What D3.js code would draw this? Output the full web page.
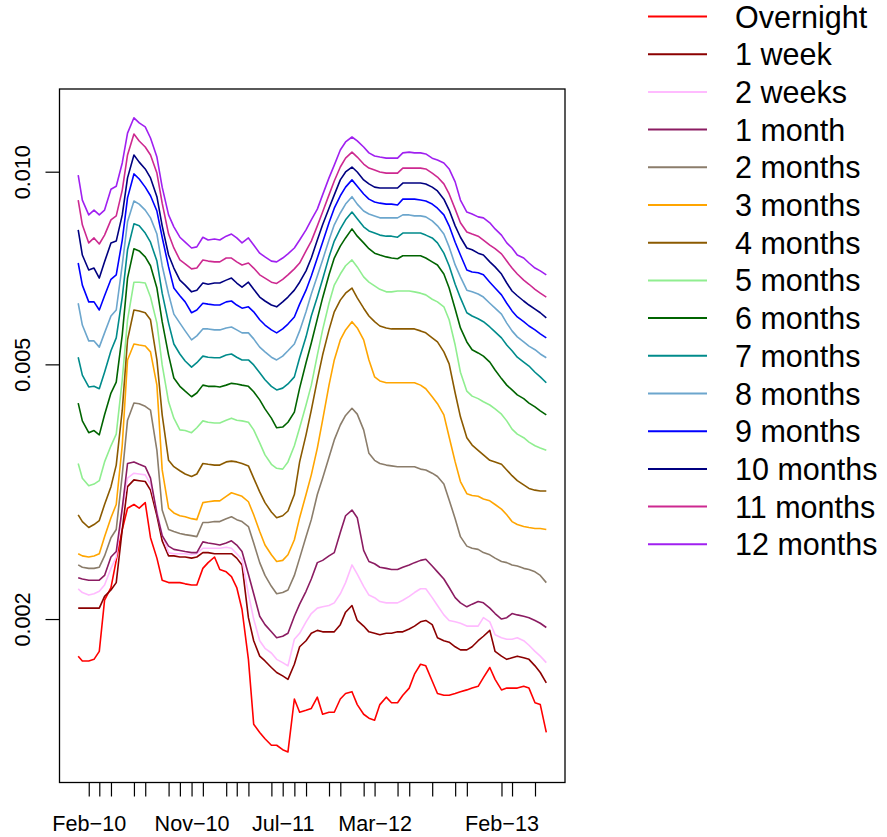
<!DOCTYPE html>
<html><head><meta charset="utf-8">
<script src="https://cdn.jsdelivr.net/npm/d3@7"></script>
<style>body{margin:0;background:#fff}svg{display:block;background:#fff}text{font-family:"Liberation Sans",Arial,Helvetica,sans-serif;fill:#000}</style>
</head><body><svg id="chart" width="887" height="837"></svg>
<script>
// observation dates (semi-monthly readings of the curves)
const dates = ["2010-01-04","2010-01-15","2010-02-01","2010-02-15","2010-03-01","2010-03-15","2010-04-01","2010-04-15","2010-05-01","2010-05-15","2010-06-01","2010-06-15","2010-07-01","2010-07-15","2010-08-01","2010-08-15","2010-09-01","2010-09-15","2010-10-01","2010-10-15","2010-11-01","2010-11-15","2010-12-01","2010-12-15",
"2011-01-01","2011-01-15","2011-02-01","2011-02-15","2011-03-01","2011-03-15","2011-04-01","2011-04-15","2011-05-01","2011-05-15","2011-06-01","2011-06-15","2011-07-01","2011-07-15","2011-08-01","2011-08-15","2011-09-01","2011-09-15","2011-10-01","2011-10-15","2011-11-01","2011-11-15","2011-12-01","2011-12-15",
"2012-01-01","2012-01-15","2012-02-01","2012-02-15","2012-03-01","2012-03-15","2012-04-01","2012-04-15","2012-05-01","2012-05-15","2012-06-01","2012-06-15","2012-07-01","2012-07-15","2012-08-01","2012-08-15","2012-09-01","2012-09-15","2012-10-01","2012-10-15","2012-11-01","2012-11-15","2012-12-01","2012-12-15",
"2013-01-01","2013-01-15","2013-02-01","2013-02-15","2013-03-01","2013-03-15","2013-04-01","2013-04-15","2013-05-01","2013-05-15","2013-05-31"];

const seriesNames = ["Overnight","1 week","2 weeks","1 month","2 months","3 months","4 months","5 months","6 months","7 months","8 months","9 months","10 months","11 months","12 months"];
const seriesColors = ["#FF0000","#8B0000","#FFBBFF","#8B1C62","#8B7D6B","#FFA500","#8B5A00","#90EE90","#006400","#008B8B","#6CA6CD","#0000FF","#000080","#CD2990","#A020F0"];

// rates in basis points
const overnight = [17.5,17.2,17.2,17.3,17.8,21.4,22.4,24.7,27.6,29.8,30.2,29.8,30.4,26.8,24.9,23.0,22.8,22.8,22.8,22.7,22.6,22.6,24.0,24.5,25.0,23.9,23.7,23.3,22.4,20.7,17.3,13.7,13.3,13.0,12.7,12.7,12.5,12.4,15.0,14.3,14.4,14.5,15.1,14.2,14.3,14.3,15.0,15.3,15.4,14.7,14.2,14.0,13.9,14.7,15.1,14.8,14.8,15.2,15.6,16.4,17.0,16.9,16.0,15.3,15.2,15.2,15.3,15.4,15.5,15.6,15.7,16.2,16.8,16.1,15.5,15.6,15.6,15.6,15.7,15.6,14.8,14.7,13.3];
const week1 = [20.8,20.8,20.8,20.8,20.8,21.7,22.2,22.8,27.6,32.2,33.0,32.9,32.8,31.8,29.0,26.5,25.1,25.1,25.0,25.0,24.9,25.0,25.4,25.4,25.3,25.3,25.3,25.3,24.9,24.3,20.1,18.5,17.5,17.2,16.8,16.5,16.3,16.1,17.0,18.1,18.5,19.0,19.2,19.1,19.1,19.1,19.6,20.5,21.0,19.9,19.5,19.1,19.0,18.9,19.0,19.0,19.1,19.1,19.3,19.5,19.8,19.9,19.6,18.7,18.5,18.4,18.1,17.9,17.9,18.1,18.5,18.8,19.2,17.8,17.5,17.3,17.4,17.5,17.4,17.3,16.9,16.5,15.9];
const weeks2 = [22.3,22.0,21.8,21.9,22.1,22.6,24.0,25.0,29.6,33.2,33.8,33.7,33.6,32.5,29.5,27.1,25.4,25.3,25.3,25.3,25.2,25.3,25.8,25.8,25.8,25.8,25.9,25.8,25.3,24.8,21.9,20.0,18.5,18.0,17.7,17.3,17.1,16.9,18.6,19.0,19.8,20.4,20.8,20.9,21.0,21.2,21.9,22.8,24.3,23.5,22.5,21.8,21.6,21.3,21.2,21.2,21.2,21.4,21.7,22.0,22.3,22.3,21.6,21.0,20.3,19.9,19.8,19.7,19.5,19.5,19.5,20.1,19.8,18.9,18.7,18.6,18.6,18.7,18.5,18.2,17.8,17.5,17.1];
const month1 = [23.2,23.1,23.0,23.0,23.0,23.4,25.0,25.5,29.8,35.0,35.2,34.9,34.6,33.2,29.2,27.0,26.0,25.7,25.6,25.5,25.4,25.4,26.4,26.3,26.2,26.1,26.3,26.5,26.1,25.5,23.5,21.9,20.2,19.6,19.1,18.7,18.8,19.0,20.2,21.1,22.1,23.1,24.5,24.7,25.1,25.4,27.3,29.0,29.6,28.8,25.6,24.6,24.4,24.1,24.0,23.9,23.9,24.1,24.3,24.5,24.7,24.8,24.2,23.7,23.1,22.4,21.6,21.2,20.9,21.1,21.3,21.2,20.8,20.4,20.0,20.1,20.4,20.3,20.2,20.1,19.9,19.7,19.4];
const months2 = [24.3,24.1,24.0,24.0,24.1,25.1,26.8,27.6,33.6,40.9,43.5,43.4,43.0,42.4,36.7,29.6,27.6,27.4,27.2,27.1,27.0,26.9,28.3,28.3,28.4,28.4,28.7,28.9,28.6,28.4,27.9,26.3,24.5,23.4,22.5,21.9,22.0,22.2,23.4,24.9,26.9,28.6,31.3,33.2,35.8,38.1,40.2,41.6,42.7,41.8,39.5,36.3,35.4,35.0,34.8,34.7,34.6,34.6,34.6,34.6,34.3,34.2,33.8,33.4,32.5,30.7,28.7,26.9,26.0,25.8,25.7,25.4,25.2,24.9,24.6,24.5,24.3,24.2,24.0,23.9,23.7,23.4,22.8];
const months3 = [25.3,25.1,25.0,25.1,25.3,26.9,28.8,30.2,37.4,50.8,53.8,53.6,53.4,52.3,46.4,34.2,29.8,29.3,29.0,28.9,28.7,28.6,30.4,30.5,30.6,30.6,31.1,31.5,31.3,31.1,30.5,29.1,27.4,26.1,25.2,24.6,24.7,25.2,26.6,28.8,31.3,33.6,37.0,40.9,46.4,50.8,54.6,56.6,58.3,57.0,54.6,50.8,47.8,47.1,46.8,46.8,46.8,46.8,46.8,46.8,46.4,45.8,44.5,43.4,41.7,38.5,35.2,32.8,31.4,31.2,31.1,30.8,30.6,30.2,29.7,29.1,28.4,28.1,27.9,27.8,27.7,27.7,27.6];
const months4 = [29.1,28.4,27.8,28.1,28.5,30.2,32.2,34.8,42.4,54.6,60.8,60.6,60.2,58.7,50.8,41.7,35.4,34.6,34.1,33.7,33.4,33.7,35.0,34.9,34.8,34.8,35.2,35.3,35.2,35.0,34.7,33.2,31.6,30.4,29.4,28.8,29.0,29.5,31.3,35.2,38.8,42.4,47.3,51.7,56.6,60.4,63.0,64.6,65.8,63.5,61.2,59.5,58.3,57.4,57.0,56.8,56.8,56.8,56.8,56.8,56.4,56.0,55.0,54.2,52.3,50.1,45.1,41.4,38.4,37.4,36.7,36.1,35.4,35.2,34.9,34.2,33.5,32.9,32.4,32.0,31.8,31.7,31.7];
const months5 = [35.0,33.2,32.3,32.5,32.9,35.2,37.3,38.9,47.3,58.7,67.2,67.2,67.0,63.7,58.0,49.9,43.7,41.2,39.5,39.4,39.1,39.8,40.8,40.6,40.5,40.5,40.9,41.2,40.9,40.8,40.6,39.5,37.7,36.1,34.9,34.4,34.3,35.2,37.3,39.8,43.2,46.4,51.7,56.6,62.3,66.5,69.2,71.3,72.8,71.0,68.5,67.2,66.3,65.5,64.9,64.9,65.1,65.1,65.1,64.9,64.6,64.2,63.2,62.6,61.5,58.7,53.6,48.6,45.4,44.6,44.2,43.7,43.2,42.6,41.8,40.8,39.6,38.9,38.4,37.8,37.3,37.0,36.7];
const months6 = [43.5,40.8,39.1,39.4,38.8,41.7,45.1,46.9,55.6,68.2,75.8,75.2,73.6,71.3,65.8,58.3,51.7,47.6,46.2,45.4,44.5,45.1,46.4,46.2,46.2,46.1,46.4,46.7,46.6,46.4,46.2,45.3,44.0,42.6,41.2,39.8,39.9,40.6,42.1,45.9,50.3,54.0,58.9,63.5,69.0,73.3,76.5,78.8,81.4,79.3,77.4,75.8,74.6,74.1,73.6,73.3,73.1,73.9,73.9,73.9,73.9,73.3,72.3,71.5,69.2,65.8,61.0,57.0,54.2,52.7,52.1,51.5,50.4,49.0,47.5,46.4,45.6,44.8,44.2,43.5,42.9,42.3,41.7];
const months7 = [51.3,48.1,46.1,46.2,45.8,48.6,52.5,55.0,63.7,75.5,82.9,82.3,80.2,77.6,72.5,64.6,58.0,53.8,51.9,50.6,49.5,50.3,51.5,51.3,51.2,51.2,51.7,51.9,51.3,50.8,50.8,49.9,48.5,47.3,46.2,45.6,45.9,46.6,47.8,51.2,55.2,59.5,63.7,67.9,73.6,77.9,81.4,84.1,86.5,84.4,82.0,80.8,80.2,79.6,79.3,79.3,79.0,80.2,80.2,80.2,80.2,79.6,78.8,77.4,74.6,71.3,66.7,63.5,60.2,59.5,58.9,58.3,57.2,56.2,55.0,53.6,52.5,51.3,50.4,49.7,48.6,47.8,46.8];
const months8 = [62.3,57.6,54.4,54.4,53.2,56.0,59.5,60.8,71.5,83.5,90.0,89.0,87.1,84.7,79.9,71.3,64.4,59.9,58.0,56.4,54.6,55.4,56.8,56.8,56.6,56.6,57.0,57.2,56.6,56.0,56.0,54.8,53.2,52.3,51.3,50.8,51.5,52.5,53.8,56.4,60.4,64.4,68.7,72.8,78.2,82.6,86.2,89.0,91.4,89.0,86.8,85.9,85.3,84.7,84.7,84.7,84.7,85.6,85.6,85.3,85.3,85.0,83.8,82.3,79.9,76.3,71.5,68.5,65.3,64.9,64.4,63.7,62.3,61.2,59.9,58.0,56.4,55.2,54.2,53.4,52.7,51.9,51.2];
const months9 = [72.0,66.5,62.6,62.6,60.8,64.0,67.9,69.0,78.2,91.0,99.2,97.4,94.6,91.7,86.8,79.0,71.0,65.8,64.0,62.6,60.2,60.8,62.3,62.1,61.9,61.9,62.6,62.8,61.9,61.2,61.5,60.4,58.7,57.6,56.6,56.0,56.8,57.8,59.3,62.1,65.3,68.7,73.3,77.6,83.2,87.7,91.7,94.6,97.1,94.9,92.3,90.6,89.7,89.3,89.0,89.0,88.7,90.6,90.6,90.6,90.3,90.0,89.0,87.7,85.6,82.3,77.6,74.1,70.2,69.7,69.5,69.0,67.2,65.8,64.2,62.3,60.6,59.3,58.3,57.4,56.6,55.8,55.0];
const months10 = [81.1,74.1,70.2,70.7,68.2,72.3,77.4,77.9,85.6,97.8,106.2,103.5,101.0,97.8,91.4,82.3,74.1,70.7,67.7,66.5,64.9,65.3,67.0,66.7,67.0,67.0,67.7,68.2,67.0,66.0,67.2,65.5,63.7,62.8,61.9,61.5,62.6,63.7,65.3,67.2,70.0,73.3,78.2,82.6,87.7,92.0,97.1,99.9,101.7,99.9,97.1,95.7,94.6,94.3,94.3,94.3,94.3,96.0,96.0,96.0,96.0,95.7,94.6,93.3,90.6,87.1,82.3,79.0,76.0,75.5,74.6,74.1,72.3,71.0,69.2,67.0,65.1,64.0,62.8,61.9,61.0,60.2,59.1];
const months11 = [90.3,82.6,77.4,78.8,77.1,79.6,84.1,85.3,93.6,106.2,114.5,111.7,109.3,106.2,99.5,89.3,79.9,76.0,72.8,71.8,70.5,70.7,72.8,72.5,72.3,72.3,73.3,73.3,72.3,71.5,72.0,70.7,69.0,68.2,67.2,66.9,67.9,69.0,70.5,72.0,75.2,77.9,82.3,86.5,92.0,96.7,101.7,105.0,107.3,105.4,102.8,101.3,100.6,99.9,99.5,99.5,99.5,101.3,101.3,101.3,101.3,101.0,99.5,98.1,95.7,92.3,87.4,83.2,80.5,79.9,79.3,78.2,76.8,75.8,74.4,72.5,70.7,69.2,67.7,66.7,65.5,64.6,63.7];
const months12 = [98.8,90.3,85.6,87.1,85.6,87.1,93.9,94.9,103.2,114.9,121.4,119.2,117.5,112.9,105.4,94.6,85.6,82.0,79.0,77.6,76.0,76.3,79.0,78.2,78.5,78.2,79.3,79.9,78.8,77.4,78.8,76.8,74.6,73.6,72.5,72.3,73.3,74.4,76.0,78.2,81.1,84.1,87.4,92.0,97.8,102.4,108.1,111.3,113.3,111.7,109.3,107.0,105.8,105.4,105.0,105.0,105.0,107.0,107.3,107.0,107.0,106.6,105.0,104.3,103.2,101.0,96.4,90.3,86.5,85.9,85.0,84.7,83.2,81.4,79.6,77.4,76.0,74.1,73.3,72.0,70.7,70.0,69.0];

const yTicks = [0.002, 0.005, 0.010];
const yTickLabels = ["0.002", "0.005", "0.010"];
const xTickDates = ["2010-02-01","2010-03-01","2010-04-01","2010-06-01","2010-07-01","2010-09-01","2010-10-01","2010-11-01","2010-12-01","2011-02-01","2011-03-01","2011-04-01","2011-06-01","2011-07-01","2011-08-01","2011-09-01","2011-11-01","2011-12-01","2012-02-01","2012-03-01","2012-05-01","2012-06-01","2012-08-01","2012-10-01","2012-11-01","2013-02-01","2013-03-01","2013-05-01"];
const xTickLabels = ["Feb\u221210","","","","","","","Nov\u221210","","","","","","Jul\u221211","","","","","","Mar\u221212","","","","","","Feb\u221213","",""];

const seriesValues = [overnight, week1, weeks2, month1, months2, months3, months4, months5, months6, months7, months8, months9, months10, months11, months12];

// ---- drawing ----
const svg = d3.select("#chart");
svg.append("rect").attr("width", 887).attr("height", 837).attr("fill", "#fff");
const parse = d3.utcParse("%Y-%m-%d");
const box = {l: 59.5, r: 565, t: 89, b: 782.5};

const x = d3.scaleUtc()
  .domain([parse(dates[0]), parse(dates[dates.length - 1])])
  .range([78.2, 546.3]);
const y = d3.scaleLog().domain([0.001, 0.01]).range([811.7, 171.7]);

const line = d3.line().x(d => x(d.date)).y(d => y(d.v));
const g = svg.append("g");
seriesValues.forEach((vals, i) => {
  const pts = vals.map((v, j) => ({date: parse(dates[j]), v: v / 1e4}));
  g.append("path")
    .attr("d", line(pts))
    .attr("fill", "none")
    .attr("stroke", seriesColors[i])
    .attr("stroke-width", 1.6)
    .attr("stroke-linejoin", "round");
});

// box
svg.append("rect").attr("x", box.l).attr("y", box.t)
  .attr("width", box.r - box.l).attr("height", box.b - box.t)
  .attr("fill", "none").attr("stroke", "#000").attr("stroke-width", 1.3);

// x axis
const xAxis = d3.axisBottom(x)
  .tickValues(xTickDates.map(parse))
  .tickFormat((d, i) => xTickLabels[i])
  .tickSize(14).tickPadding(19);
const gx = svg.append("g").attr("transform", `translate(0,${box.b})`).call(xAxis);
gx.select(".domain").remove();
gx.selectAll(".tick line").attr("stroke", "#000").attr("stroke-width", 1.2);
gx.selectAll(".tick text").attr("font-size", 21.6).attr("font-family", '"Liberation Sans",Arial,sans-serif').attr("fill", "#000");

// y axis
const yAxis = d3.axisLeft(y)
  .tickValues(yTicks)
  .tickFormat((d, i) => yTickLabels[i])
  .tickSize(14);
const gy = svg.append("g").attr("transform", `translate(${box.l},0)`).call(yAxis);
gy.select(".domain").remove();
gy.selectAll(".tick line").attr("stroke", "#000").attr("stroke-width", 1.2);
gy.selectAll(".tick text")
  .attr("x", 0).attr("y", -29.5).attr("dy", null)
  .attr("transform", "rotate(-90)")
  .attr("text-anchor", "middle")
  .attr("font-size", 21.6).attr("font-family", '"Liberation Sans",Arial,sans-serif').attr("fill", "#000");

// legend
const lg = svg.append("g");
seriesNames.forEach((name, i) => {
  const ly = 16.5 + i * 37.7;
  lg.append("line").attr("x1", 648).attr("x2", 707).attr("y1", ly).attr("y2", ly)
    .attr("stroke", seriesColors[i]).attr("stroke-width", 2);
  lg.append("text").attr("x", 735).attr("y", ly + 11)
    .attr("font-size", 30.5).text(name);
});
</script>
</body></html>
